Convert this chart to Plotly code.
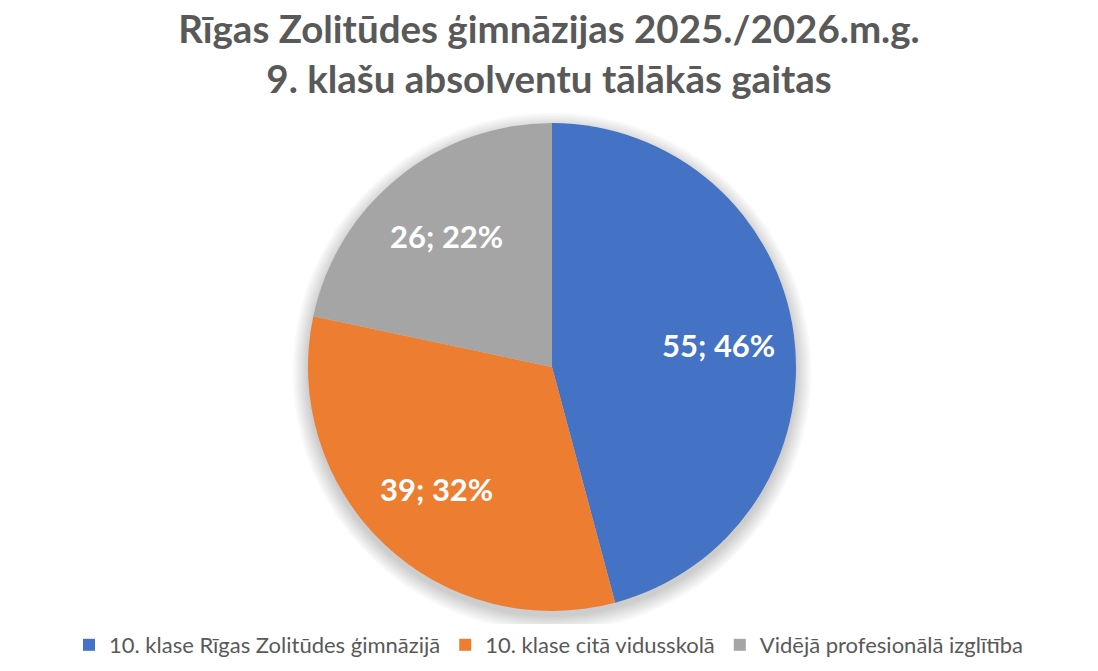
import math
import plotly.graph_objects as go

categories = ["10. klase Rīgas Zolitūdes ģimnāzijā", "10. klase citā vidusskolā", "Vidējā profesionālā izglītība"]
values = [55, 39, 26]
percent_labels = ["46%", "32%", "22%"]
colors = ["#4472C4", "#ED7D31", "#A5A5A5"]

W, H = 1098, 671
cx, cy, r = 552, 367, 244          # pie centre / radius in pixels
label_frac = 0.69                  # radial position of data labels

fig = go.Figure(go.Pie(
    labels=categories,
    values=values,
    textinfo="none",
    marker=dict(colors=colors, line=dict(width=0)),
    sort=False,
    direction="clockwise",
    rotation=0,
    domain=dict(x=[(cx - r) / W, (cx + r) / W], y=[1 - (cy + r) / H, 1 - (cy - r) / H]),
    hoverinfo="label+value+percent",
))

# data labels placed at the middle angle of each slice
total = sum(values)
cum = 0
annotations = []
for v, p in zip(values, percent_labels):
    mid = (cum + v / 2) / total * 2 * math.pi
    cum += v
    px = cx + r * label_frac * math.sin(mid)
    py = cy - r * label_frac * math.cos(mid)
    annotations.append(dict(
        x=px / W, y=1 - py / H, xref="paper", yref="paper",
        text=f"{v}; {p}", showarrow=False, xanchor="center", yanchor="middle",
        font=dict(family="Lato", size=31, color="white", weight="bold"),
    ))

# soft shadow behind the pie
shapes = []
for i in range(10):
    rr = r + 1 + i * 1.6
    oy = 5
    shapes.append(dict(
        type="circle", xref="paper", yref="paper", layer="below",
        x0=(cx - rr) / W, x1=(cx + rr) / W,
        y0=1 - (cy + oy + rr) / H, y1=1 - (cy + oy - rr) / H,
        fillcolor="rgba(0,0,0,0.018)", line=dict(width=0),
    ))

fig.update_layout(
    width=W, height=H,
    margin=dict(l=0, r=0, t=0, b=0),
    paper_bgcolor="white",
    plot_bgcolor="white",
    title=dict(
        text="Rīgas Zolitūdes ģimnāzijas 2025./2026.m.g.<br>9. klašu absolventu tālākās gaitas",
        x=0.5, xanchor="center", yref="container", y=1 - 43 / H, yanchor="middle",
        font=dict(family="Lato", size=38.5, color="#595959", weight="bold"),
    ),
    legend=dict(
        orientation="h", x=0.5, xanchor="center", y=1 - 645 / H, yanchor="middle",
        font=dict(family="Lato", size=22, color="#595959"),
        traceorder="normal",
        itemwidth=30,
    ),
    annotations=annotations,
    shapes=shapes,
    showlegend=True,
)

fig.write_html("out.html", post_script="document.body.style.margin='0';",
               config={"displayModeBar": False})
